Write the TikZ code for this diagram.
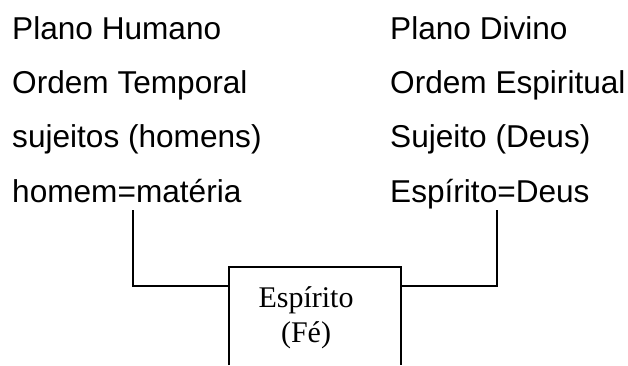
\documentclass[tikz,border=0pt]{standalone}
\usepackage{fontspec}
\setmainfont{Liberation Sans}
\newfontfamily\serifface{Liberation Serif}
\begin{document}
\begin{tikzpicture}[x=1pt,y=-1pt,
  lbl/.style={anchor=base west,inner sep=0pt,font=\fontsize{31.6}{36}\selectfont},
  conn/.style={line width=1.5pt},
  boxtext/.style={anchor=base,inner sep=0pt,font=\serifface\fontsize{30}{35}\selectfont}]
\useasboundingbox (0,0) rectangle (628,365);
% left column
\node[lbl] (l1) at (12,39) {Plano Humano};
\node[lbl] (l2) at (12,93) {Ordem Temporal};
\node[lbl] (l3) at (12,147) {sujeitos (homens)};
\node[lbl] (l4) at (12,202) {homem=matéria};
% right column
\node[lbl] (r1) at (390,39) {Plano Divino};
\node[lbl] (r2) at (390,93) {Ordem Espiritual};
\node[lbl] (r3) at (390,147) {Sujeito (Deus)};
\node[lbl] (r4) at (390,202) {Espírito=Deus};
% box (open at the bottom)
\node[minimum width=172pt,minimum height=98pt,inner sep=0pt] (box) at (315,316) {};
\draw[conn] (box.south west) |- (box.north east) -- (box.south east);
\node[boxtext] (fe1) at (306,307) {Espírito};
\node[boxtext] (fe2) at (306,342) {(Fé)};
% connectors
\coordinate (lt) at (133,210);
\coordinate (rt) at (497,210);
\draw[conn] (lt) |- ([yshift=-19pt]box.north west);
\draw[conn] (rt) |- ([yshift=-19pt]box.north east);
\end{tikzpicture}
\end{document}
